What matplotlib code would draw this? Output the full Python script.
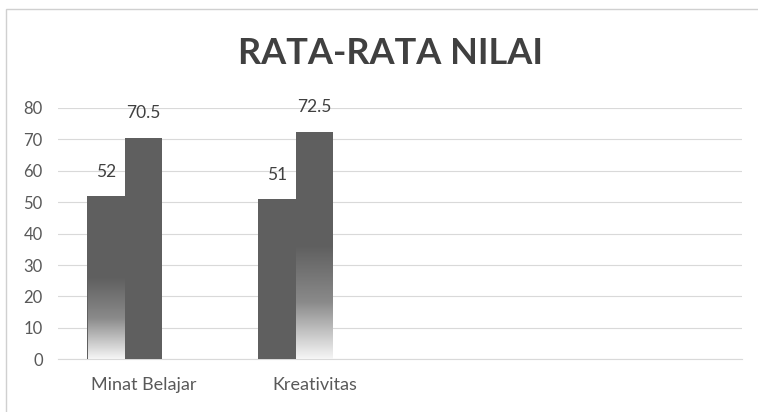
import matplotlib
matplotlib.use("Agg")
import matplotlib.pyplot as plt
import numpy as np

# data
categories = ["Minat Belajar", "Kreativitas", "", ""]
series_1 = [52, 51, 0, 0]
series_2 = [70.5, 72.5, 0, 0]
series_3 = [0, 0, 0, 0]   # empty third series, only takes space in each group
labels_1 = ["52", "51"]
labels_2 = ["70.5", "72.5"]
yticks = [0, 10, 20, 30, 40, 50, 60, 70, 80]

plt.rcParams['font.family'] = ['Lato', 'DejaVu Sans']

bar_color = "#5f5f5f"
text_color = "#595959"
grid_color = "#d9d9d9"

fig = plt.figure(figsize=(7.58, 4.12), dpi=100)
ax = fig.add_axes([0.0765, 0.128, 0.902, 0.61])

# chart border
fig.patches.append(plt.Rectangle((6 / 758, -0.05), 1.1, 1 - 9 / 412 + 0.05,
                                 transform=fig.transFigure, fill=False,
                                 edgecolor="#d0d0d0", linewidth=1))

x = np.arange(len(categories))
w = 0.22
bars1 = ax.bar(x - w, series_1, w, color=bar_color, zorder=2)
bars2 = ax.bar(x, series_2, w, color=bar_color, zorder=2)
ax.bar(x + w, series_3, w, color=bar_color, zorder=2)

# gradient on the lower half of some bars (as in the picture)
grad = np.linspace(0, 1, 256).reshape(-1, 1)
cmap = matplotlib.colors.LinearSegmentedColormap.from_list(
    "g", ["#f6f6f6", "#8a8a8a", bar_color])


def fade(rect):
    x0 = rect.get_x()
    x1 = x0 + rect.get_width()
    h = rect.get_height()
    ax.imshow(grad, extent=(x0 + 0.004, x1 - 0.004, 0, h / 2), origin="lower",
              cmap=cmap, aspect="auto", zorder=3, interpolation="bilinear")


fade(bars1[0])
fade(bars2[1])

for rect, lab in zip(list(bars1) + list(bars2), labels_1 + [""] * 2 + labels_2):
    if not lab:
        continue
    ax.annotate(lab, (rect.get_x() + rect.get_width() / 2, rect.get_height()),
                xytext=(0, 17.5), textcoords="offset points", ha="center",
                va="center", fontsize=12.5, color="#404040")

ax.set_xlim(-0.5, len(categories) - 0.5)
ax.set_ylim(0, 80)
ax.set_yticks(yticks)
ax.set_xticks(x)
ax.set_xticklabels(categories)
ax.tick_params(axis="y", length=0, pad=11, labelsize=12, labelcolor=text_color)
ax.tick_params(axis="x", length=0, pad=13, labelsize=13, labelcolor=text_color)
ax.grid(axis="y", color=grid_color, linewidth=0.8, zorder=0)
for s in ["top", "right", "left"]:
    ax.spines[s].set_visible(False)
ax.spines["bottom"].set_color(grid_color)
ax.spines["bottom"].set_zorder(1)

fig.text(0.515, 0.87, "RATA-RATA NILAI", ha="center", va="center",
         fontsize=26, fontweight="bold", color="#404040")

fig.savefig("out.png", dpi=100)
